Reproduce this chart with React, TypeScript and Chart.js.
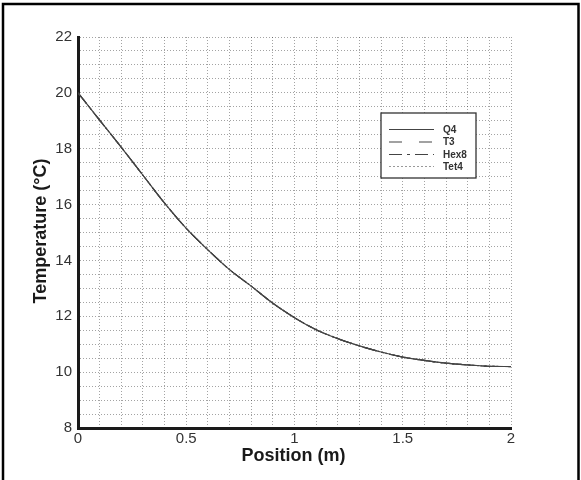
import React, { useEffect, useRef } from "react";
import { Chart, registerables } from "chart.js";

Chart.register(...registerables);

// ---- data ----
const positions = [0, 0.1, 0.2, 0.3, 0.4, 0.5, 0.6, 0.7, 0.8, 0.9, 1.0, 1.1, 1.2, 1.3, 1.4, 1.5, 1.6, 1.7, 1.8, 1.9, 2.0];
const q4Temp = [20.0, 19.02, 18.05, 17.05, 16.05, 15.15, 14.38, 13.67, 13.08, 12.47, 11.95, 11.52, 11.2, 10.94, 10.72, 10.54, 10.42, 10.32, 10.26, 10.21, 10.2];
const t3Temp = [20.0, 19.02, 18.05, 17.05, 16.05, 15.15, 14.38, 13.67, 13.08, 12.47, 11.95, 11.52, 11.2, 10.94, 10.72, 10.54, 10.42, 10.32, 10.26, 10.21, 10.2];
const hex8Temp = [20.0, 19.02, 18.05, 17.05, 16.05, 15.15, 14.38, 13.67, 13.08, 12.47, 11.95, 11.52, 11.2, 10.94, 10.72, 10.54, 10.42, 10.32, 10.26, 10.21, 10.2];
const tet4Temp = [20.0, 19.02, 18.05, 17.05, 16.05, 15.15, 14.38, 13.67, 13.08, 12.47, 11.95, 11.52, 11.2, 10.94, 10.72, 10.54, 10.42, 10.32, 10.26, 10.21, 10.2];
const seriesLabels = ["Q4", "T3", "Hex8", "Tet4"];
const seriesDashes = [[], [13, 17], [13, 5, 3, 5], [2, 2]];
const xTitle = "Position (m)";
const yTitle = "Temperature (°C)";
const xMin = 0, xMax = 2, xStep = 0.1, xLabelEvery = 0.5;
const yMin = 8, yMax = 22, yStep = 0.5, yLabelEvery = 2;

const FONT = "Arial, 'Liberation Sans', Helvetica, sans-serif";

const isMultiple = (v: number, m: number) => Math.abs(v / m - Math.round(v / m)) < 1e-6;

const decorPlugin = {
  id: "decor",
  afterDraw(chart: any) {
    const { ctx, chartArea } = chart;
    ctx.save();
    // outer frame (left, top, right)
    ctx.strokeStyle = "#000";
    ctx.lineWidth = 2.5;
    ctx.beginPath();
    ctx.moveTo(3, 480);
    ctx.lineTo(3, 4);
    ctx.lineTo(578.5, 4);
    ctx.lineTo(578.5, 480);
    ctx.stroke();

    // axis titles
    ctx.fillStyle = "#1a1a1a";
    ctx.font = `bold 18px ${FONT}`;
    ctx.textAlign = "center";
    ctx.textBaseline = "alphabetic";
    ctx.fillText(xTitle, (chartArea.left + chartArea.right) / 2 - 1, chartArea.bottom + 33);
    ctx.save();
    ctx.translate(chartArea.left - 32.5, (chartArea.top + chartArea.bottom) / 2 - 1.5);
    ctx.rotate(-Math.PI / 2);
    ctx.fillText(yTitle, 0, 0);
    ctx.restore();

    // legend box
    const bx = 381, by = 113, bw = 95, bh = 65;
    ctx.fillStyle = "#ffffff";
    ctx.fillRect(bx, by, bw, bh);
    ctx.strokeStyle = "#333";
    ctx.lineWidth = 1.3;
    ctx.strokeRect(bx, by, bw, bh);
    const rows = [129.5, 142, 154.5, 166.5];
    chart.data.datasets.forEach((ds: any, i: number) => {
      const y = rows[i];
      ctx.save();
      ctx.strokeStyle = i === 3 ? "#999" : "#444";
      ctx.lineWidth = 1.2;
      ctx.setLineDash(ds.borderDash || []);
      ctx.beginPath();
      ctx.moveTo(389, y);
      ctx.lineTo(434, y);
      ctx.stroke();
      ctx.restore();
      ctx.fillStyle = "#333";
      ctx.font = `bold 10px ${FONT}`;
      ctx.textAlign = "left";
      ctx.textBaseline = "middle";
      ctx.fillText(ds.label, 443, y + 0.5);
    });
    ctx.restore();
  },
};

export default function App() {
  const ref = useRef<HTMLCanvasElement | null>(null);
  useEffect(() => {
    if (!ref.current) return;
    const series = [q4Temp, t3Temp, hex8Temp, tet4Temp];
    const chart = new Chart(ref.current, {
      type: "line",
      data: {
        datasets: series.map((vals, i) => ({
          label: seriesLabels[i],
          data: positions.map((x, j) => ({ x, y: vals[j] })),
          borderColor: "#444",
          borderWidth: 1.2,
          borderDash: seriesDashes[i],
          pointRadius: 0,
          cubicInterpolationMode: "monotone" as const,
          fill: false,
        })),
      },
      options: {
        responsive: false,
        animation: false,
        events: [],
        layout: { padding: { left: 0, right: 70, top: 37, bottom: 0 } },
        plugins: { legend: { display: false }, title: { display: false }, tooltip: { enabled: false } },
        scales: {
          x: {
            type: "linear",
            min: xMin,
            max: xMax,
            afterFit: (s: any) => { s.height = 52; },
            border: { display: true, color: "#1a1a1a", width: 3, dash: [1, 2] },
            grid: { color: "rgba(0,0,0,0.36)", lineWidth: 1, drawTicks: false },
            ticks: {
              stepSize: xStep,
              autoSkip: false,
              maxRotation: 0,
              padding: 2,
              color: "#333",
              font: { family: FONT, size: 15 },
              callback: (v: any) => (isMultiple(Number(v), xLabelEvery) ? String(Math.round(Number(v) * 10) / 10) : ""),
            },
          },
          y: {
            type: "linear",
            min: yMin,
            max: yMax,
            afterFit: (s: any) => { s.width = 78; },
            border: { display: true, color: "#1a1a1a", width: 3, dash: [1, 2] },
            grid: { color: "rgba(0,0,0,0.36)", lineWidth: 1, drawTicks: false },
            ticks: {
              stepSize: yStep,
              autoSkip: false,
              padding: 6,
              color: "#333",
              font: { family: FONT, size: 15 },
              callback: (v: any) => (isMultiple(Number(v), yLabelEvery) ? String(Math.round(Number(v))) : ""),
            },
          },
        },
      },
      plugins: [decorPlugin],
    } as any);
    return () => chart.destroy();
  }, []);
  return (
    <div style={{ position: "fixed", left: 0, top: 0, width: 581, height: 480, background: "#fff" }}>
      <canvas ref={ref} width={581} height={480} style={{ width: 581, height: 480, display: "block" }} />
    </div>
  );
}
